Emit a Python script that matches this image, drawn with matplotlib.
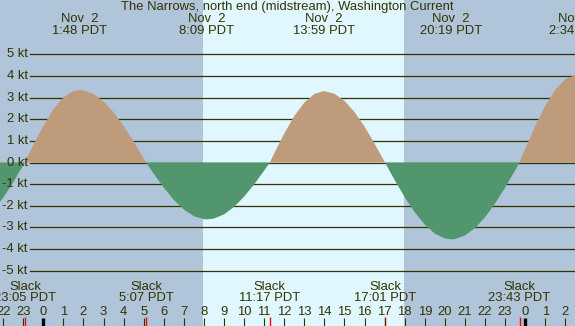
import numpy as np
import matplotlib
matplotlib.use('Agg')
from matplotlib import pyplot as plt

# current speed (kt), hours from midnight Nov 2 (PDT)
hours = [-2.5, -2.0, -1.5, -1.0, -0.917, -0.5, 0.0, 0.5, 1.0, 1.5, 1.8, 2.0,
         2.5, 3.0, 3.5, 4.0, 4.5, 5.0, 5.117, 5.5, 6.0, 6.5, 7.0, 7.5, 8.0,
         8.15, 8.5, 9.0, 9.5, 10.0, 10.5, 11.0, 11.283, 11.5, 12.0, 12.5,
         13.0, 13.5, 13.983, 14.5, 15.0, 15.5, 16.0, 16.5, 17.017, 17.5,
         18.0, 18.5, 19.0, 19.5, 20.0, 20.317, 20.5, 21.0, 21.5, 22.0, 22.5,
         23.0, 23.5, 23.717, 24.0, 24.5, 25.0, 25.5, 26.0, 26.5, 27.0]
speed = [-2.23, -1.63, -0.92, -0.13, 0.0, 0.80, 1.69, 2.45, 3.00, 3.30, 3.35,
         3.33, 3.17, 2.82, 2.32, 1.69, 0.97, 0.19, 0.0, -0.52, -1.16, -1.73,
         -2.17, -2.48, -2.62, -2.63, -2.59, -2.40, -2.05, -1.58, -1.01, -0.37,
         0.0, 0.42, 1.34, 2.15, 2.77, 3.17, 3.30, 3.18, 2.85, 2.33, 1.66, 0.87,
         0.0, -0.81, -1.60, -2.30, -2.87, -3.29, -3.51, -3.55, -3.54, -3.37,
         -3.03, -2.53, -1.89, -1.16, -0.36, 0.0, 0.63, 1.69, 2.63, 3.37, 3.85,
         4.05, 4.03]

max_hours = [1.8, 8.15, 13.983, 20.317, 26.567]
max_labels = ['1:48 PDT', '8:09 PDT', '13:59 PDT', '20:19 PDT', '2:34 PDT']
slack_hours = [-0.917, 5.117, 11.283, 17.017, 23.717]
slack_labels = ['23:05 PDT', '5:07 PDT', '11:17 PDT', '17:01 PDT', '23:43 PDT']
sunrise, sunset = 7.93, 17.95
kt_levels = list(range(-5, 6))
hour_ticks = list(range(-2, 27))

title = 'The Narrows, north end (midstream), Washington Current'

NIGHT = '#b0c4da'
DAY = '#e0f7ff'
FLOOD = '#be9b7b'
EBB = '#52966e'
INK = '#333300'

plt.rcParams['font.family'] = ['Liberation Sans', 'DejaVu Sans']
plt.rcParams['font.size'] = 9.4

fig = plt.figure(figsize=(5.75, 3.26), dpi=100)
ax = fig.add_axes([0, 0, 1, 1])
ax.set_facecolor(NIGHT)
ax.set_xlim(-2.156, 26.48)
ax.set_ylim(-7.555, 7.51)
ax.axis('off')
fig.patch.set_facecolor(NIGHT)

ax.axvspan(sunrise, sunset, color=DAY, lw=0, zorder=0)

# kt lines + labels
ytr = ax.get_yaxis_transform()
for k in kt_levels:
    ax.axhline(k, xmin=0.052, xmax=1, color=INK, lw=0.9, zorder=1)
    ax.text(0.048, k, '%d kt' % k, transform=ytr, ha='right', va='center',
            color=INK)

t = np.array(hours)
v = np.array(speed)
ax.fill_between(t, v, 0, where=v >= 0, interpolate=True, color=FLOOD,
                lw=0, zorder=2)
ax.fill_between(t, v, 0, where=v <= 0, interpolate=True, color=EBB,
                lw=0, zorder=2)

xtr = ax.get_xaxis_transform()
# top labels at max current
fig.text(0.5, 0.978, title, ha='center', va='center', color=INK)
for h, lab in zip(max_hours, max_labels):
    ax.text(h, 0.942, 'Nov  2', transform=xtr, ha='center', va='center',
            color=INK)
    ax.text(h, 0.905, lab, transform=xtr, ha='center', va='center',
            color=INK)

# slack labels + red ticks
for h, lab in zip(slack_hours, slack_labels):
    ax.text(h, 0.119, 'Slack', transform=xtr, ha='center', va='center',
            color=INK)
    ax.text(h, 0.085, lab, transform=xtr, ha='center', va='center',
            color=INK)
    ax.vlines(h, 0, 0.028, transform=xtr, color='red', lw=1.0, zorder=3)

# hour ticks
for h in hour_ticks:
    ax.text(h, 0.042, str(h % 24), transform=xtr, ha='center', va='center',
            color=INK)
    if h % 24 == 0:
        ax.vlines(h, 0, 0.024, transform=xtr, color='black', lw=2.4, zorder=3)
    else:
        ax.vlines(h, 0, 0.024, transform=xtr, color=INK, lw=0.8, zorder=3)

fig.savefig('out.png', dpi=100, facecolor=NIGHT)
